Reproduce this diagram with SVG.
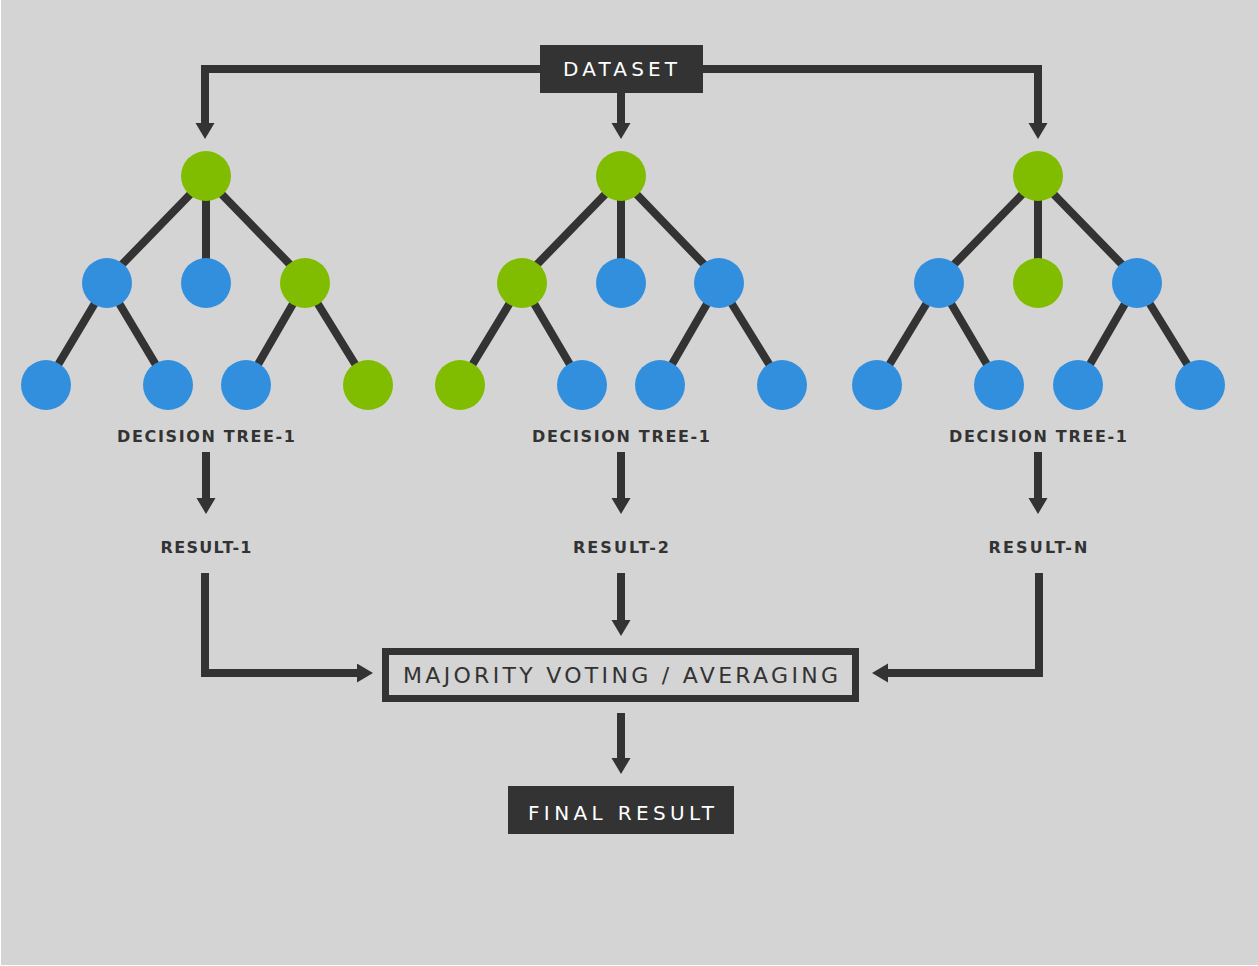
<svg xmlns="http://www.w3.org/2000/svg" width="1258" height="966" viewBox="0 0 1258 966">
<style>
.bg{fill:#d4d4d4}
.edge{stroke:#333333;stroke-width:8;fill:none}
.conn{stroke:#333333;stroke-width:8;fill:none;stroke-linejoin:miter;stroke-linecap:butt}
.g{fill:#80bd01}
.b{fill:#318fde}
.lbl{font-family:"DejaVu Sans","Liberation Sans",Arial,sans-serif;font-weight:bold;font-size:16px;fill:#333333;text-anchor:middle}
.boxtxt{font-family:"DejaVu Sans","Liberation Sans",Arial,sans-serif;font-size:20px;fill:#ffffff;text-anchor:middle}
.darkbox{fill:#333333}
</style>
<defs>
<marker id="arr" markerUnits="userSpaceOnUse" markerWidth="17" markerHeight="20" refX="1" refY="9.5" orient="auto">
<path d="M0,0 L16,9.5 L0,19 z" fill="#333333"/>
</marker>
</defs>
<rect x="0" y="0" width="1258" height="966" fill="#ffffff"/>
<rect class="bg" x="1" y="0" width="1257" height="965"/>

<g id="connectors">
<path class="conn" d="M540 69 H205 V124" marker-end="url(#arr)"/>
<path class="conn" d="M703 69 H1038 V124" marker-end="url(#arr)"/>
<path class="conn" d="M621 93 V124" marker-end="url(#arr)"/>
<path class="conn" d="M206 452 V499" marker-end="url(#arr)"/>
<path class="conn" d="M621 452 V499" marker-end="url(#arr)"/>
<path class="conn" d="M1038 452 V499" marker-end="url(#arr)"/>
<path class="conn" d="M205 573 V673 H358" marker-end="url(#arr)"/>
<path class="conn" d="M621 573 V621" marker-end="url(#arr)"/>
<path class="conn" d="M1039 573 V673 H887" marker-end="url(#arr)"/>
<path class="conn" d="M621 713 V759" marker-end="url(#arr)"/>
</g>

<g id="dataset">
<rect class="darkbox" x="540" y="45" width="163" height="48"/>
<text class="boxtxt" x="620" y="76" textLength="114" lengthAdjust="spacing">DATASET</text>
</g>

<g id="tree1">
<path class="edge" d="M208 176 L104 283 M206 176 L206 283 M204 176 L308 283 M107 283 L46 385 M107 283 L168 385 M305 283 L246 385 M305 283 L368 385"/>
<circle class="g" cx="206" cy="176" r="25"/>
<circle class="b" cx="107" cy="283" r="25"/>
<circle class="b" cx="206" cy="283" r="25"/>
<circle class="g" cx="305" cy="283" r="25"/>
<circle class="b" cx="46" cy="385" r="25"/>
<circle class="b" cx="168" cy="385" r="25"/>
<circle class="b" cx="246" cy="385" r="25"/>
<circle class="g" cx="368" cy="385" r="25"/>
<text class="lbl" x="206" y="442" textLength="178" lengthAdjust="spacing">DECISION TREE-1</text>
</g>

<g id="tree2">
<path class="edge" d="M623 176 L519 283 M621 176 L621 283 M619 176 L722 283 M522 283 L460 385 M522 283 L582 385 M719 283 L660 385 M719 283 L782 385"/>
<circle class="g" cx="621" cy="176" r="25"/>
<circle class="g" cx="522" cy="283" r="25"/>
<circle class="b" cx="621" cy="283" r="25"/>
<circle class="b" cx="719" cy="283" r="25"/>
<circle class="g" cx="460" cy="385" r="25"/>
<circle class="b" cx="582" cy="385" r="25"/>
<circle class="b" cx="660" cy="385" r="25"/>
<circle class="b" cx="782" cy="385" r="25"/>
<text class="lbl" x="621" y="442" textLength="178" lengthAdjust="spacing">DECISION TREE-1</text>
</g>

<g id="tree3">
<path class="edge" d="M1040 176 L936 283 M1038 176 L1038 283 M1036 176 L1140 283 M939 283 L877 385 M939 283 L999 385 M1137 283 L1078 385 M1137 283 L1200 385"/>
<circle class="g" cx="1038" cy="176" r="25"/>
<circle class="b" cx="939" cy="283" r="25"/>
<circle class="g" cx="1038" cy="283" r="25"/>
<circle class="b" cx="1137" cy="283" r="25"/>
<circle class="b" cx="877" cy="385" r="25"/>
<circle class="b" cx="999" cy="385" r="25"/>
<circle class="b" cx="1078" cy="385" r="25"/>
<circle class="b" cx="1200" cy="385" r="25"/>
<text class="lbl" x="1038" y="442" textLength="178" lengthAdjust="spacing">DECISION TREE-1</text>
</g>

<g id="result1"><text class="lbl" x="206" y="553" textLength="91" lengthAdjust="spacing">RESULT-1</text></g>
<g id="result2"><text class="lbl" x="621" y="553" textLength="96" lengthAdjust="spacing">RESULT-2</text></g>
<g id="resultN"><text class="lbl" x="1038" y="553" textLength="99" lengthAdjust="spacing">RESULT-N</text></g>

<g id="majority">
<rect x="385.5" y="651.5" width="470" height="47" fill="none" stroke="#333333" stroke-width="7"/>
<text x="620.5" y="683" font-family="DejaVu Sans, Liberation Sans, Arial, sans-serif" font-size="22" fill="#333333" text-anchor="middle" textLength="435" lengthAdjust="spacing">MAJORITY VOTING / AVERAGING</text>
</g>

<g id="final">
<rect class="darkbox" x="508" y="786" width="226" height="48"/>
<text class="boxtxt" x="621" y="820" font-size="22" textLength="186" lengthAdjust="spacing">FINAL RESULT</text>
</g>
</svg>
